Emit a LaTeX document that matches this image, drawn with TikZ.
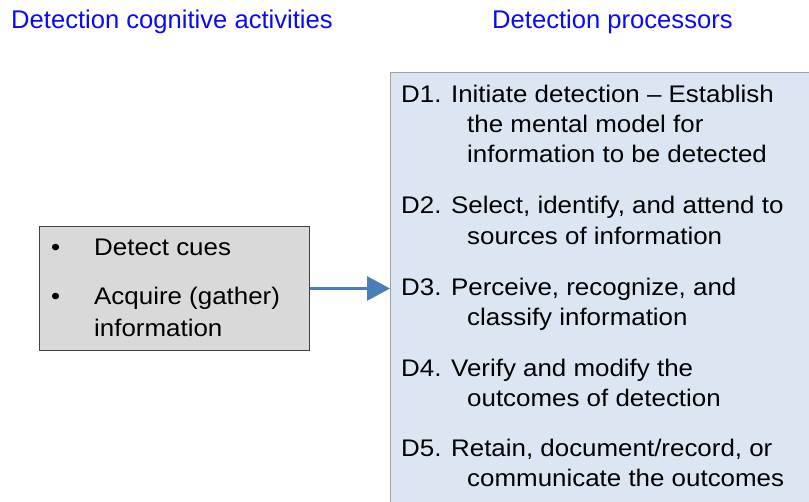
\documentclass[tikz,border=0pt]{standalone}
\usepackage{fontspec}
\setmainfont{Liberation Sans}
\newfontfamily\bodyfont[FakeStretch=1.08]{Liberation Sans}
\usetikzlibrary{arrows.meta}
\definecolor{titleblue}{RGB}{10,10,250}
\definecolor{rfill}{RGB}{220,230,242}
\definecolor{rdraw}{RGB}{160,160,160}
\definecolor{lfill}{RGB}{217,217,217}
\definecolor{ldraw}{RGB}{64,64,64}
\definecolor{arrowblue}{RGB}{74,126,187}
\tikzset{
  ttl/.style={anchor=base west, inner sep=0pt, text=titleblue, font=\fontsize{25.6}{30}\selectfont},
  ln/.style={anchor=base west, inner sep=0pt, font=\bodyfont\fontsize{24}{30}\selectfont},
  conn/.style={draw=arrowblue, line width=3pt, -{Triangle[length=23pt,width=24pt]}},
}
\begin{document}
\begin{tikzpicture}[x=1pt,y=-1pt]
\useasboundingbox (0,0) rectangle (809,502);
\node[ttl] (t1) at (11,29) {Detection cognitive activities};
\node[ttl] (t2) at (492,29) {Detection processors};
% right box
\node[draw=rdraw, fill=rfill, line width=1pt, anchor=north west, minimum width=430pt, minimum height=440pt, inner sep=0pt] (rbox) at (390,72) {};
% left box
\node[draw=ldraw, fill=lfill, line width=1pt, anchor=north west, minimum width=270pt, minimum height=124pt, inner sep=0pt] (lbox) at (38.5,226) {};
% left text
\node[ln] (b1) at (51,256) {•};
\node[ln] (l1) at (94,256) {Detect cues};
\node[ln] (b2) at (51,305) {•};
\node[ln] (l2) at (94,305) {Acquire (gather)};
\node[ln] (l3) at (94,337) {information};
% right text
\node[ln] (d1a) at (401,103) {D1. Initiate detection – Establish};
\node[ln] (d1b) at (467,133) {the mental model for};
\node[ln] (d1c) at (467,163) {information to be detected};
\node[ln] (d2a) at (401,214) {D2. Select, identify, and attend to};
\node[ln] (d2b) at (467,245) {sources of information};
\node[ln] (d3a) at (401,296) {D3. Perceive, recognize, and};
\node[ln] (d3b) at (467,326) {classify information};
\node[ln] (d4a) at (401,377) {D4. Verify and modify the};
\node[ln] (d4b) at (467,407) {outcomes of detection};
\node[ln] (d5a) at (401,457) {D5. Retain, document/record, or};
\node[ln] (d5b) at (467,487) {communicate the outcomes};
% arrow
\draw[conn] (lbox.east) -- (lbox.east -| rbox.west);
\end{tikzpicture}
\end{document}
